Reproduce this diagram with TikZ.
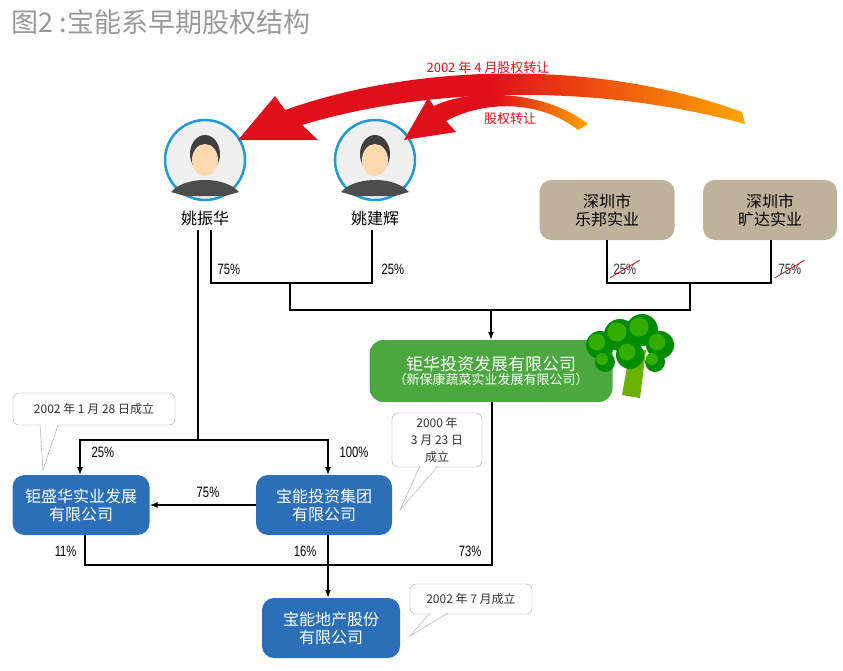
\documentclass[tikz,border=0pt]{standalone}
\usepackage{fontspec}
\setmainfont{Noto Sans CJK SC}
\newfontfamily\cjk{Noto Sans CJK SC}
\newfontfamily\pct{Liberation Sans}[FakeStretch=0.75]
\usetikzlibrary{arrows.meta,shapes.callouts}
\definecolor{blu}{HTML}{2A6FB8}
\definecolor{grn}{HTML}{4AA83F}
\definecolor{tan}{HTML}{BFB29A}
\definecolor{ring}{HTML}{1E9AD6}
\definecolor{redd}{HTML}{E0101A}
\tikzset{
 bbox/.style={draw=none,fill=blu,rounded corners=12pt,text=white,font=\fontsize{16}{18}\selectfont,align=center,inner sep=0},
 tbox/.style={fill=tan,rounded corners=12pt,font=\fontsize{16}{18}\selectfont,align=center,inner sep=0},
 ln/.style={line width=1.2pt},
 arr/.style={ln,-{Latex[length=8pt,width=6pt]}},
 pl/.style={font=\pct\fontsize{15}{16}\selectfont},
 note/.style={draw=gray!70,rounded corners=6pt,fill=white,font=\fontsize{12}{14}\selectfont,text=gray!40!black,align=center},
 pers/.style={font=\fontsize{16}{18}\selectfont}
}
\begin{document}
\begin{tikzpicture}[x=1pt,y=-1pt]
\useasboundingbox (0,0) rectangle (843,670);
\fill[white] (0,0) rectangle (843,670);
\node[anchor=west,text=gray!80,font=\fontsize{27}{30}\selectfont] (title) at (8,22) {图2 :宝能系早期股权结构};
% photos
\foreach \n/\x in {pa/205,pb/375}{
 \node[draw=ring,line width=2.5pt,circle,minimum size=80pt,fill=gray!12] (\n) at (\x,160) {};
 \fill[black!75] (\x,154) ellipse (15 and 19);
 \fill[black!70] (\x-34,202-10) .. controls (\x-20,176) and (\x+20,176) .. (\x+34,192) -- (\x+20,196) -- (\x-20,196) -- cycle;
 \fill[orange!30!white] (\x,160) ellipse (13 and 16);
}
\node[pers] (na) at (205,218) {姚振华};
\node[pers] (nb) at (375,218) {姚建辉};
\node[tbox,minimum width=135pt,minimum height=60pt] (lb) at (607,210) {深圳市\\乐邦实业};
\node[tbox,minimum width=134pt,minimum height=60pt] (kd) at (770,210) {深圳市\\旷达实业};
% green box
\node[fill=grn,rounded corners=14pt,minimum width=243pt,minimum height=62pt,text=white,align=center,inner sep=0] (jh) at (491,371) {{\fontsize{17}{20}\selectfont 钜华投资发展有限公司}\\[1pt]{\fontsize{13}{15}\selectfont （新保康蔬菜实业发展有限公司）}};
% broccoli
\fill[green!40!yellow!70!black] (622,395) -- (630,350) -- (646,350) -- (640,398) -- cycle;
\foreach \cx/\cy/\r in {600/345/14,620/335/16,642/330/16,660/345/14,630/355/14,605/362/10,655/362/10}{
 \fill[green!55!black] (\cx,\cy) circle (\r);
 \fill[green!60!black!80!yellow] (\cx-3,\cy-3) circle (\r*0.6);
}
% blue boxes
\node[bbox,minimum width=137pt,minimum height=60pt] (js) at (81,505) {钜盛华实业发展\\有限公司};
\node[bbox,minimum width=136pt,minimum height=60pt] (bn) at (324,505) {宝能投资集团\\有限公司};
\node[bbox,minimum width=138pt,minimum height=60pt] (dc) at (331,628) {宝能地产股份\\有限公司};
% top lines
\coordinate (m1) at (290,283); \coordinate (m2) at (690,283);
\draw[ln] (211,230) |- (m1) -| (372,230);
\draw[ln] (lb.south) |- (m2) -| (kd.south -| 771,0);
\draw[ln] (m1) -- (290,310) -| (m2);
\draw[arr] (491,310) -- (jh.north);
\node[pl,anchor=west] at (214,269) {75\%};
\node[pl,anchor=west] at (378,269) {25\%};
\node[pl,anchor=west,text=gray!40!black] (p25) at (610,269) {25\%};
\node[pl,anchor=west,text=gray!40!black] (p75) at (775,269) {75\%};
\draw[redd,thick] (p25.south west) -- (p25.north east);
\draw[redd,thick] (p75.south west) -- (p75.north east);
% left structure
\coordinate (c1) at (198,440);
\draw[ln] (198,230) -- (c1);
\draw[arr] (c1) -| (80,475);
\draw[arr] (c1) -| (328,475);
\node[pl,anchor=west] at (88,452) {25\%};
\node[pl,anchor=west] at (336,452) {100\%};
\draw[arr] (bn.west) -- (js.east);
\node[pl] at (208,492) {75\%};
\coordinate (b1) at (85,565); \coordinate (b2) at (492,565);
\draw[ln] (85,535) -- (b1) -- (b2) -- (492,402);
\draw[arr] (328,535) -- (dc.north -| 328,0);
\node[pl,anchor=east] at (80,551) {11\%};
\node[pl,anchor=east] at (320,551) {16\%};
\node[pl,anchor=east] at (485,551) {73\%};
% callouts
\node[note,minimum width=162pt,minimum height=32pt] (n1) at (94,409) {2002 年 1 月 28 日成立};
\fill[white] (40,422) -- (43,470) -- (60,422) -- cycle;
\draw[gray!70] (40,425) -- (43,470) -- (58,425);
\node[note,minimum width=90pt,minimum height=54pt,inner sep=1pt,font=\fontsize{12}{17}\selectfont] (n2) at (437,440) {2000 年\\3 月 23 日\\成立};
\fill[white] (420,464) -- (400,510) -- (440,464) -- cycle;
\draw[gray!70] (420,466) -- (400,510) -- (438,466);
\node[note,minimum width=122pt,minimum height=30pt] (n3) at (471,599) {2002 年 7 月成立};
\fill[white] (430,611) -- (410,636) -- (450,611) -- cycle;
\draw[gray!70] (430,613) -- (410,636) -- (448,613);
% red arrows
\shade[left color=redd,right color=orange!70!yellow,middle color=redd]
 (742,112) .. controls (600,60) and (420,62) .. (285,110) -- (275,96) -- (238,140) -- (318,140) -- (302,125) .. controls (430,86) and (600,84) .. (745,124) -- cycle;
\shade[left color=redd,right color=orange!70!yellow,middle color=redd]
 (588,124) .. controls (545,90) and (470,88) .. (434,106) -- (428,98) -- (404,140) -- (456,132) -- (446,121) .. controls (485,100) and (540,100) .. (578,130) -- cycle;
\node[text=redd,font=\fontsize{13}{15}\selectfont] (t1) at (488,68) {2002 年 4 月股权转让};
\node[text=redd,font=\fontsize{13}{15}\selectfont] (t2) at (510,119) {股权转让};
\end{tikzpicture}
\end{document}
